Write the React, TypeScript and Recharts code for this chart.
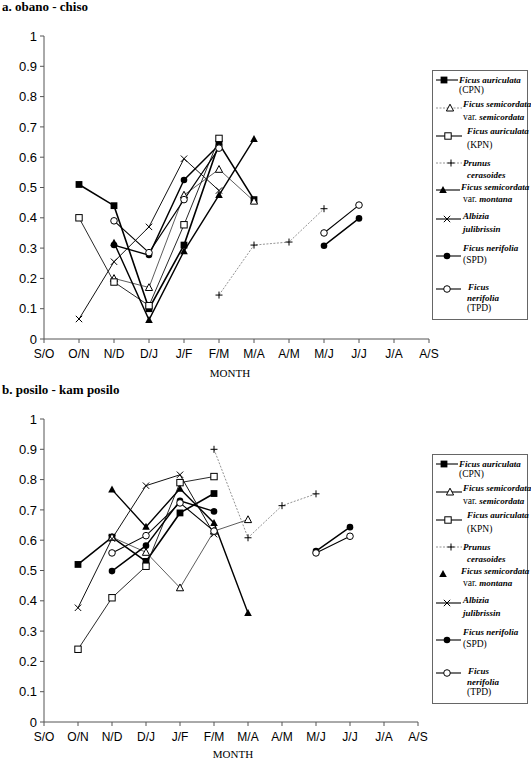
import React from 'react';
import { LineChart, Line, XAxis, YAxis } from 'recharts';

const months = ['S/O', 'O/N', 'N/D', 'D/J', 'J/F', 'F/M', 'M/A', 'A/M', 'M/J', 'J/J', 'J/A', 'A/S'];
const yTicks = [0, 0.1, 0.2, 0.3, 0.4, 0.5, 0.6, 0.7, 0.8, 0.9, 1];
const yTickLabels = ['0', '0.1', '0.2', '0.3', '0.4', '0.5', '0.6', '0.7', '0.8', '0.9', '1'];

// Panel a: obano - chiso
const aCPN = [null, 0.51, 0.44, 0.1, 0.31, 0.645, 0.46, null, null, null, null, null];
const aSemi = [null, null, 0.2, 0.17, 0.475, 0.56, 0.455, null, null, null, null, null];
const aKPN = [null, 0.4, 0.188, 0.11, 0.377, 0.662, null, null, null, null, null, null];
const aPrunus = [null, null, null, null, null, 0.145, 0.31, 0.32, 0.43, null, null, null];
const aMontana = [null, null, 0.318, 0.063, 0.29, 0.475, 0.66, null, null, null, null, null];
const aAlbizia = [null, 0.066, 0.255, 0.37, 0.595, 0.49, null, null, null, null, null, null];
const aSPD = [null, null, 0.31, 0.277, 0.525, 0.64, null, null, 0.308, 0.398, null, null];
const aTPD = [null, null, 0.39, 0.285, 0.46, 0.63, null, null, 0.35, 0.442, null, null];

// Panel b: posilo - kam posilo
const bCPN = [null, 0.52, 0.61, 0.53, 0.69, 0.754, null, null, null, null, null, null];
const bSemi = [null, null, 0.61, 0.56, 0.443, 0.63, 0.668, null, null, null, null, null];
const bKPN = [null, 0.24, 0.41, 0.514, 0.79, 0.81, null, null, null, null, null, null];
const bPrunus = [null, null, null, null, null, 0.9, 0.608, 0.714, 0.753, null, null, null];
const bMontana = [null, null, 0.767, 0.644, 0.77, 0.657, 0.36, null, null, null, null, null];
const bAlbizia = [null, 0.377, 0.605, 0.78, 0.816, 0.62, null, null, null, null, null, null];
const bSPD = [null, null, 0.498, 0.582, 0.73, 0.695, null, null, 0.564, 0.643, null, null];
const bTPD = [null, null, 0.558, 0.615, 0.723, 0.63, null, null, 0.558, 0.613, null, null];

type Shape = 'fsq' | 'osq' | 'otri' | 'plus' | 'ftri' | 'x' | 'fcir' | 'ocir';

const seriesStyle: { key: string; shape: Shape; stroke: string; width: number; dash?: string }[] = [
  { key: 'cpn', shape: 'fsq', stroke: '#000', width: 1.6 },
  { key: 'semi', shape: 'otri', stroke: '#333', width: 0.8 },
  { key: 'kpn', shape: 'osq', stroke: '#111', width: 0.9 },
  { key: 'prunus', shape: 'plus', stroke: '#777', width: 0.8, dash: '2 1.5' },
  { key: 'montana', shape: 'ftri', stroke: '#000', width: 1.4 },
  { key: 'albizia', shape: 'x', stroke: '#111', width: 1 },
  { key: 'spd', shape: 'fcir', stroke: '#000', width: 1.4 },
  { key: 'tpd', shape: 'ocir', stroke: '#000', width: 1.1 },
];

function buildData(arrs: (number | null)[][]) {
  return months.map((m, i) => {
    const row: any = { month: m };
    seriesStyle.forEach((s, k) => {
      row[s.key] = arrs[k][i];
    });
    return row;
  });
}

const dataA = buildData([aCPN, aSemi, aKPN, aPrunus, aMontana, aAlbizia, aSPD, aTPD]);
const dataB = buildData([bCPN, bSemi, bKPN, bPrunus, bMontana, bAlbizia, bSPD, bTPD]);

function drawMarker(shape: Shape, cx: number, cy: number, key?: any) {
  switch (shape) {
    case 'fsq':
      return <rect key={key} x={cx - 3.4} y={cy - 3.4} width={6.8} height={6.8} fill="#000" />;
    case 'osq':
      return <rect key={key} x={cx - 3.2} y={cy - 3.2} width={6.4} height={6.4} fill="#fff" stroke="#000" strokeWidth={1} />;
    case 'otri':
      return <polygon key={key} points={`${cx},${cy - 3.8} ${cx + 3.6},${cy + 3} ${cx - 3.6},${cy + 3}`} fill="#fff" stroke="#000" strokeWidth={1} />;
    case 'ftri':
      return <polygon key={key} points={`${cx},${cy - 4} ${cx + 3.8},${cy + 3} ${cx - 3.8},${cy + 3}`} fill="#000" />;
    case 'plus':
      return <path key={key} d={`M${cx - 3.5},${cy}H${cx + 3.5}M${cx},${cy - 3.5}V${cy + 3.5}`} stroke="#000" strokeWidth={1} />;
    case 'x':
      return <path key={key} d={`M${cx - 3.2},${cy - 3.2}L${cx + 3.2},${cy + 3.2}M${cx - 3.2},${cy + 3.2}L${cx + 3.2},${cy - 3.2}`} stroke="#000" strokeWidth={1} />;
    case 'fcir':
      return <circle key={key} cx={cx} cy={cy} r={3.3} fill="#000" />;
    case 'ocir':
    default:
      return <circle key={key} cx={cx} cy={cy} r={3.3} fill="#fff" stroke="#000" strokeWidth={1} />;
  }
}

type Seg = { t: string; i?: boolean };

const legendText: Seg[][][] = [
  [[{ t: 'Ficus auriculata', i: true }], [{ t: '(CPN)' }]],
  [[{ t: 'Ficus semicordata', i: true }], [{ t: 'var. ' }, { t: 'semicordata', i: true }]],
  [[{ t: 'Ficus auriculata', i: true }], [{ t: '(KPN)' }]],
  [[{ t: 'Prunus', i: true }], [{ t: 'cerasoides', i: true }]],
  [[{ t: 'Ficus semicordata', i: true }], [{ t: 'var. ' }, { t: 'montana', i: true }]],
  [[{ t: 'Albizia', i: true }], [{ t: 'julibrissin', i: true }]],
  [[{ t: 'Ficus nerifolia', i: true }], [{ t: '(SPD)' }]],
  [[{ t: 'Ficus', i: true }], [{ t: 'nerifolia', i: true }], [{ t: '(TPD)' }]],
];

const iconYs = [9, 37, 65, 92, 119, 148, 185, 218];
const textYs = [[9, 18.5], [33, 46], [60, 74], [92, 104], [116, 128], [145, 158], [177, 189], [216, 226.5, 237]];
const textXs = [[27, 27], [31, 31], [35, 35], [31, 35], [29, 31], [31, 31], [31, 31], [36, 35, 35]];
const markXs = [12, 18, 16, 19, 11, 15, 15, 15];
const lineEnds = [26, 30, 30, 30, 28, 29, 29, 29];

function LegendBox({ left, top, montanaLine, semiGray }: { left: number; top: number; montanaLine: boolean; semiGray: boolean }) {
  return (
    <svg style={{ position: 'absolute', left, top, overflow: 'visible' }} width={97} height={251}>
      <rect x={0.5} y={0.5} width={95} height={249} fill="#fff" stroke="#666" strokeWidth={1} />
      {seriesStyle.map((s, k) => {
        const iy = iconYs[k] + 1;
        const hasLine = s.key === 'montana' ? montanaLine : true;
        const grayish = s.key === 'prunus' || (s.key === 'semi' && semiGray);
        return (
          <g key={s.key}>
            {hasLine && (
              <line x1={4} x2={lineEnds[k]} y1={iy} y2={iy} stroke={grayish ? '#777' : '#000'} strokeWidth={grayish ? 0.8 : 1.1} strokeDasharray={grayish ? '2 1.5' : undefined} />
            )}
            {drawMarker(s.shape, markXs[k], iy)}
            {legendText[k].map((ln, j) => (
              <text key={j} x={textXs[k][j]} y={textYs[k][j] + 1 + 3.2} fontFamily="'Liberation Serif', serif" fontSize={9} fill="#000">
                {ln.map((sg, q) => (
                  <tspan key={q} fontStyle={sg.i ? 'italic' : 'normal'} fontWeight={sg.i ? 'bold' : 'normal'} fontSize={sg.i ? 9 : 9.5}>{sg.t}</tspan>
                ))}
              </text>
            ))}
          </g>
        );
      })}
    </svg>
  );
}

function Panel({ data, marginTop, marginRight, marginBottom }: { data: any[]; marginTop: number; marginRight: number; marginBottom: number }) {
  return (
    <LineChart width={531} height={380} data={data} margin={{ top: marginTop, right: marginRight, bottom: marginBottom, left: 0 }}>
      <XAxis
        dataKey="month"
        height={30}
        interval={0}
        axisLine={{ stroke: '#555', strokeWidth: 1 }}
        tickLine={{ stroke: '#555' }}
        tickSize={4}
        tickMargin={6}
        tick={{ fontFamily: "'Liberation Sans', Arial, sans-serif", fontSize: 12, fill: '#000' }}
      />
      <YAxis
        type="number"
        domain={[0, 1]}
        ticks={yTicks}
        interval={0}
        width={44}
        axisLine={{ stroke: '#555', strokeWidth: 1 }}
        tickLine={{ stroke: '#555' }}
        tickSize={4}
        tickMargin={3}
        tickFormatter={(v: number) => yTickLabels[yTicks.indexOf(v)] ?? String(v)}
        tick={{ fontFamily: "'Liberation Sans', Arial, sans-serif", fontSize: 13, fill: '#000' }}
      />
      {seriesStyle.map((s) => (
        <Line
          key={s.key}
          dataKey={s.key}
          type="linear"
          stroke={s.stroke}
          strokeWidth={s.width}
          strokeDasharray={s.dash}
          isAnimationActive={false}
          connectNulls={false}
          activeDot={false}
          dot={(p: any) => {
            if (p == null || p.cx == null || p.cy == null || p.value == null || isNaN(p.cy)) return <g key={`${s.key}-${p?.index}`} />;
            return drawMarker(s.shape, p.cx, p.cy, `${s.key}-${p.index}`);
          }}
        />
      ))}
    </LineChart>
  );
}

const titleStyle: React.CSSProperties = {
  position: 'absolute',
  fontFamily: "'Liberation Serif', 'Times New Roman', serif",
  fontWeight: 'bold',
  fontSize: 13,
  lineHeight: '14px',
  whiteSpace: 'nowrap',
};
const monthStyle: React.CSSProperties = {
  position: 'absolute',
  fontFamily: "'Liberation Serif', 'Times New Roman', serif",
  fontSize: 11,
  lineHeight: '12px',
  width: 80,
  textAlign: 'center',
};

export default function App() {
  return (
    <div style={{ position: 'absolute', left: 0, top: 0, width: 531, height: 760, background: '#fff', overflow: 'hidden' }}>
      <div style={{ position: 'absolute', left: 0, top: 0 }}>
        <Panel data={dataA} marginTop={36} marginRight={102} marginBottom={11} />
      </div>
      <div style={{ position: 'absolute', left: 0, top: 380 }}>
        <Panel data={dataB} marginTop={39} marginRight={113} marginBottom={8} />
      </div>
      <div style={{ ...titleStyle, left: 2, top: 0 }}>a. obano - chiso</div>
      <div style={{ ...titleStyle, left: 2, top: 383 }}>b. posilo - kam posilo</div>
      <div style={{ ...monthStyle, left: 190, top: 367 }}>MONTH</div>
      <div style={{ ...monthStyle, left: 193, top: 748 }}>MONTH</div>
      <LegendBox left={432} top={70} montanaLine={true} semiGray={true} />
      <LegendBox left={432} top={454} montanaLine={false} semiGray={false} />
    </div>
  );
}
